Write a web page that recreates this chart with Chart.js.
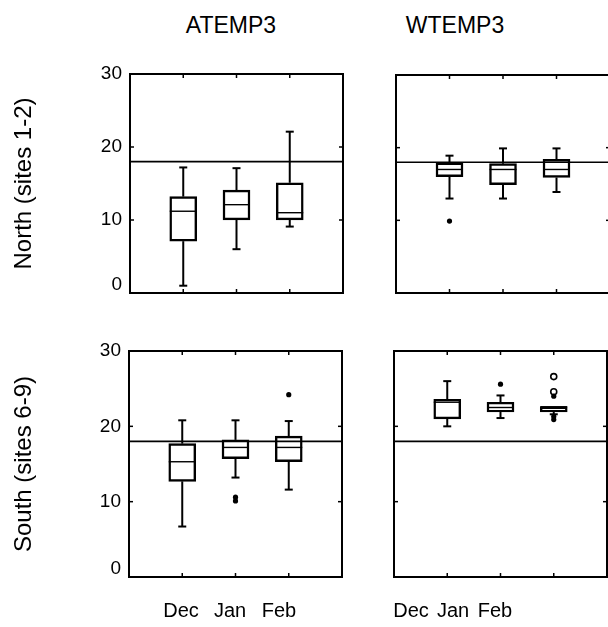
<!DOCTYPE html>
<html><head><meta charset="utf-8">
<script src="https://cdn.jsdelivr.net/npm/chart.js@4.4.1/dist/chart.umd.min.js"></script>
<style>
html,body{margin:0;padding:0;background:#fff;width:608px;height:627px;overflow:hidden;position:relative;}
canvas{position:absolute;}
.t{position:absolute;font-family:"Liberation Sans",Arial,sans-serif;font-size:23px;line-height:23px;color:#000;white-space:nowrap;transform:translateX(-50%);}
</style></head><body>
<div class="t" id="t0" style="left:231px;top:14px"></div>
<div class="t" id="t1" style="left:455px;top:14px"></div>
<canvas id="c0" width="350" height="255" style="left:0;top:60px"></canvas>
<canvas id="c1" width="290" height="255" style="left:330px;top:60px"></canvas>
<canvas id="c2" width="350" height="290" style="left:0;top:337px"></canvas>
<canvas id="c3" width="290" height="290" style="left:330px;top:337px"></canvas>
<script>
// ---- data ----
const months = ['Dec', 'Jan', 'Feb'];
const variables = ['ATEMP3', 'WTEMP3'];
const regions = ['North (sites 1-2)', 'South (sites 6-9)'];
const yTicks = [0, 10, 20, 30];
const threshold = 18;

// North, ATEMP3
const nAtempLow  = [1.0, 6.0, 9.1];
const nAtempQ1   = [7.1, 10.0, 10.0];
const nAtempMed  = [11.2, 12.1, 11.0];
const nAtempQ3   = [13.2, 14.1, 15.1];
const nAtempHigh = [17.2, 17.1, 22.1];
const nAtempOut  = [[], [], []];
const nAtempOpen = [[], [], []];

// North, WTEMP3
const nWtempLow  = [13.0, 13.0, 13.9];
const nWtempQ1   = [16.0, 14.9, 15.9];
const nWtempMed  = [17.0, 17.0, 17.0];
const nWtempQ3   = [17.9, 17.8, 18.4];
const nWtempHigh = [18.9, 19.9, 19.9];
const nWtempOut  = [[9.9], [], []];
const nWtempOpen = [[], [], []];

// South, ATEMP3
const sAtempLow  = [6.7, 13.2, 11.6];
const sAtempQ1   = [12.7, 15.7, 15.3];
const sAtempMed  = [15.3, 17.2, 17.2];
const sAtempQ3   = [17.7, 18.2, 18.7];
const sAtempHigh = [20.8, 20.8, 20.7];
const sAtempOut  = [[], [10.1, 10.6], [24.2]];
const sAtempOpen = [[], [], []];

// South, WTEMP3
const sWtempLow  = [20.0, 21.1, 21.6];
const sWtempQ1   = [21.0, 21.9, 21.9];
const sWtempMed  = [23.2, 22.5, 22.6];
const sWtempQ3   = [23.6, 23.2, 22.6];
const sWtempHigh = [26.0, 24.1, 22.6];
const sWtempOut  = [[], [25.6], [24.0, 21.3, 20.9]];
const sWtempOpen = [[], [], [26.6, 24.6]];

document.getElementById('t0').textContent = variables[0];
document.getElementById('t1').textContent = variables[1];

const FONT = "'Liberation Sans', Arial, sans-serif";
Chart.defaults.font.family = FONT;
Chart.defaults.color = '#000';

const boxPlugin = {
  id: 'boxPlot',
  afterDatasetsDraw(chart) {
    const s = chart.options.plugins.boxPlot;
    const {ctx, chartArea: a} = chart;
    const x = chart.scales.x, y = chart.scales.y;
    const bars = chart.getDatasetMeta(0).data;
    ctx.save();
    ctx.strokeStyle = '#000';
    ctx.lineCap = 'butt';
    const seg = (x1, y1, x2, y2, w) => {
      ctx.lineWidth = w; ctx.beginPath(); ctx.moveTo(x1, y1); ctx.lineTo(x2, y2); ctx.stroke();
    };
    s.med.forEach((m, i) => {
      const px = x.getPixelForValue(i + 1);
      const half = bars[i].width / 2;
      const cap = 4;
      const yq1 = y.getPixelForValue(s.q1[i]), yq3 = y.getPixelForValue(s.q3[i]);
      const ylo = y.getPixelForValue(s.low[i]), yhi = y.getPixelForValue(s.high[i]);
      if (yhi < yq3 - 0.5) { seg(px, yq3, px, yhi, 2); seg(px - cap, yhi, px + cap, yhi, 2); }
      if (ylo > yq1 + 0.5) { seg(px, yq1, px, ylo, 2); seg(px - cap, ylo, px + cap, ylo, 2); }
      const ym = y.getPixelForValue(m);
      seg(px - half, ym, px + half, ym, 1.4);
    });
    // reference line
    const yt = y.getPixelForValue(threshold);
    seg(a.left, yt, a.right, yt, 1.6);
    // frame
    ctx.lineWidth = 2;
    ctx.strokeRect(a.left, a.top, a.right - a.left, a.bottom - a.top);
    // inward ticks
    const tl = 4;
    x.ticks.forEach(t => {
      const px = x.getPixelForValue(t.value);
      seg(px, a.top, px, a.top + tl, 1.5);
      seg(px, a.bottom, px, a.bottom - tl, 1.5);
    });
    y.ticks.forEach(t => {
      if (t.value <= y.min || t.value >= y.max) return;
      const py = y.getPixelForValue(t.value);
      seg(a.left, py, a.left + tl, py, 1.5);
      seg(a.right, py, a.right - tl, py, 1.5);
    });
    ctx.restore();
  }
};

function makePanel(id, stats, opt) {
  const el = document.getElementById(id);
  const cLeft = parseFloat(el.style.left) || 0;
  const boxData = months.map((m, i) => ({x: i + 1, y: [stats.q1[i], stats.q3[i]]}));
  const outData = [], openData = [];
  months.forEach((m, i) => {
    stats.out[i].forEach(v => outData.push({x: i + 1, y: v}));
    stats.open[i].forEach(v => openData.push({x: i + 1, y: v}));
  });
  const scales = {
    x: {
      type: 'linear', min: 0, max: 4, offset: false, display: false,
      afterBuildTicks: s => { s.ticks = months.map((m, i) => ({value: i + 1})); }
    },
    y: {
      min: 0, max: 30,
      grid: {display: false, drawTicks: false}, border: {display: false},
      afterBuildTicks: s => { s.ticks = yTicks.map(v => ({value: v})); },
      ticks: {display: opt.showY, font: {size: 19, lineHeight: 0.9}, color: '#000', padding: 8,
              callback: v => (v === yTicks[0] ? [String(v), ''] : String(v))},
      title: {display: !!opt.rowLabel, text: opt.rowLabel || '', font: {size: 24}, color: '#000', padding: {top: 10, bottom: 0}},
      afterFit: s => { s.width = opt.yWidth; s.paddingTop = 0; s.paddingBottom = 0; }
    }
  };
  let padBottom = opt.xHeight;
  if (opt.labelPx) {
    // month labels are set as a separate text row beneath the panel
    const L = opt.yWidth, R = el.width - opt.padRight;
    const c = opt.labelPx.map(p => p - cLeft);
    const b = (c[2] - c[0]) / 2, a0 = c[0] - b;
    const lmin = (L - a0) / b, lmax = (R - a0) / b;
    scales.xl = {
      type: 'linear', position: 'bottom', min: lmin, max: lmax, bounds: 'data', offset: false,
      grid: {display: false, drawTicks: false}, border: {display: false},
      afterBuildTicks: s => { s.ticks = months.map((m, i) => ({value: i + 1})); s.min = lmin; s.max = lmax; },
      ticks: {autoSkip: false, maxRotation: 0, font: {size: 20}, color: '#000', padding: 22,
              callback: v => months[Math.round(v) - 1]},
      afterFit: s => { s.height = opt.xHeight; s.paddingLeft = 0; s.paddingRight = 0; }
    };
    padBottom = 0;
  }
  new Chart(el, {
    type: 'bar',
    data: {
      datasets: [
        {type: 'bar', data: boxData, backgroundColor: 'rgba(255,255,255,0)', borderColor: '#000',
         borderWidth: 1.8, borderSkipped: false, barThickness: 27},
        {type: 'scatter', data: outData, pointRadius: 2.6, pointStyle: 'circle',
         backgroundColor: '#000', borderColor: '#000', borderWidth: 0},
        {type: 'scatter', data: openData, pointRadius: 3, pointStyle: 'circle',
         backgroundColor: '#fff', borderColor: '#000', borderWidth: 1.6}
      ]
    },
    options: {
      responsive: false, animation: false,
      layout: {padding: {left: 0, top: opt.padTop, right: opt.padRight, bottom: padBottom}},
      plugins: {legend: {display: false}, tooltip: {enabled: false}, title: {display: false}, boxPlot: stats},
      scales
    },
    plugins: [boxPlugin]
  });
}

makePanel('c0', {low: nAtempLow, q1: nAtempQ1, med: nAtempMed, q3: nAtempQ3, high: nAtempHigh, out: nAtempOut, open: nAtempOpen},
  {padTop: 14, padRight: 7, xHeight: 22, yWidth: 130, showY: true, rowLabel: regions[0]});
makePanel('c1', {low: nWtempLow, q1: nWtempQ1, med: nWtempMed, q3: nWtempQ3, high: nWtempHigh, out: nWtempOut, open: nWtempOpen},
  {padTop: 15, padRight: 10, xHeight: 22, yWidth: 66, showY: false, rowLabel: null});
makePanel('c2', {low: sAtempLow, q1: sAtempQ1, med: sAtempMed, q3: sAtempQ3, high: sAtempHigh, out: sAtempOut, open: sAtempOpen},
  {padTop: 14, padRight: 8, xHeight: 50, yWidth: 129, showY: true, rowLabel: regions[1], labelPx: [181, 230, 279]});
makePanel('c3', {low: sWtempLow, q1: sWtempQ1, med: sWtempMed, q3: sWtempQ3, high: sWtempHigh, out: sWtempOut, open: sWtempOpen},
  {padTop: 14, padRight: 13, xHeight: 50, yWidth: 64, showY: false, rowLabel: null, labelPx: [411, 453, 495]});
</script>
</body></html>
